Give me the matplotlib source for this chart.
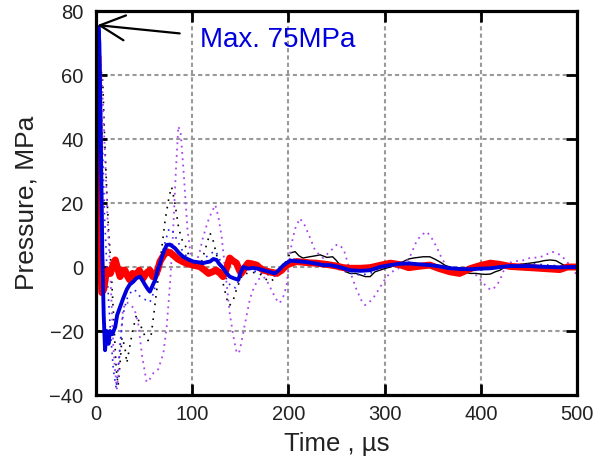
import matplotlib
matplotlib.use("Agg")
import matplotlib.pyplot as plt
import numpy as np

plt.rcParams['font.family'] = ['Liberation Sans', 'DejaVu Sans']

# time (us) / pressure (MPa)
red_t = [0, 1, 1.8, 3, 4.5, 6, 8, 10, 12.5, 15, 18, 20, 23, 25, 28, 30, 33, 35, 38, 42, 45, 49, 52, 56,
         59, 61, 64, 66.5, 70, 73.5, 77, 80, 85, 90, 95, 101, 108, 113, 117, 121, 125, 129, 132, 135,
         139, 142, 146, 149, 151, 154, 158, 162, 167, 170, 174, 180, 188, 193, 198, 203, 208.6, 215,
         222, 229, 240, 250, 257, 264, 275, 285, 295, 306, 315, 325, 335, 347, 357, 368, 378, 389,
         400, 410, 420, 430, 440, 451, 462, 472, 482, 490, 500]
red_p = [0, 30, 66, 40, 5, -8, -7, -3, -1, -2, 1, 2.2, -1, -3, -1, -1, -3, -4, -2, -2.5, -1, -3.5, -2, -1,
         -3, -3, -1, 1.7, 3.5, 4.8, 4.5, 3.8, 2.5, 1.7, 1, 0.6, 0.1, -1, -2, -1.5, -1, -2, -3, -1,
         2.8, 2, 1.2, -1, -2, -0.5, 1.2, 1, 0.6, -0.2, -1, -1.5, -2, -1, 0.6, 1.2, 1.7, 1.5,
         1.3, 1.2, 0.8, 0.3, -0.2, -0.4, -0.4, -0.2, 0.5, 1.2, 0.8, -0.2, 0.2, 0.6, -0.5, -1.5, -2, -0.5,
         0.5, 1.2, 0.8, 0.2, 0, -0.2, -0.4, -0.6, -0.8, 0, 0]

blue_t = [0, 1, 2.5, 3.5, 5, 6.5, 8, 9.4, 11, 13, 14.5, 17, 20, 22, 25, 28, 32, 35, 38.7, 42, 45.7, 48,
          51, 54, 56, 58.5, 61.5, 64, 66.5, 70, 73.5, 77, 82, 86, 90.6, 95, 101, 106, 111, 115, 118.5,
          122, 125.4, 128, 132, 136, 139, 143, 148, 150, 153, 158, 163, 168, 174, 180, 186, 190, 195,
          202, 210, 220, 230, 236, 243, 253, 264, 275, 285, 295, 306, 315, 326, 337, 347, 357, 368,
          378, 389, 400, 410, 420, 430, 440, 451, 462, 472, 482, 493, 500]
blue_p = [0, 40, 75, 70, 40, 5, -15, -26, -20, -24, -20, -21, -18.7, -15, -12.5, -10, -7, -5.5, -4.6, -3.5,
          -3, -4, -5.6, -7, -7.7, -6, -4, -1, 1.2, 4.5, 6.9, 7, 5.9, 4.5, 3.2, 2.5, 1.7, 1.5, 1.2, 1.5,
          1.7, 2.5, 2.2, 1, -0.3, -2, -3, -3.5, -4, -2, 0, -0.5, -0.3, -0.5, -1, -1.5, -2, -1, 0.6,
          2, 1.8, 1.5, 1, 0.6, 0.6, 0, -1, -1.2, -1, 0, 0.6, 1, 1.1, 0.8, 0.6, 0.2, -0.4,
          -0.6, -0.7, -0.5, -0.4, 0, 0.3, 0.3, 0.3, 0.1, 0, -0.1, 0, 0]

bdot_t = [0, 1.5, 3, 5, 7, 9, 12, 15, 18, 21, 24, 28, 32, 36, 40, 45, 50, 56, 60, 63, 67, 72, 76, 80, 85,
          90, 95, 100, 107, 112, 118, 124, 128, 132, 136, 140, 145, 150, 155, 160, 166, 172, 180, 188,
          195, 200, 206, 215, 225, 235, 245, 255, 265, 275, 285, 295, 305, 315, 325, 335, 345, 355,
          365, 375, 385, 395, 405, 415, 425, 435, 445, 455, 465, 475, 485, 495, 500]
bdot_p = [0, 50, 72, 55, 35, 15, -5, -20, -32, -38, -28, -15, -10, -8, -7, -9, -10, -11, -8, -4, 2, 8, 12,
          11, 8, 5, 3, 2, 1, 2.5, 4, 5, 3, -1, -4, -6, -6.5, -3, -1, 0, -1.5, -2, -2.5, -3,
          -1, 1, 2.5, 2, 1.5, 1, 0, -1, -2, -2.5, -2, -0.5, 1, 1.5, 1.5, 1, 0.5, 0,
          -0.5, -1, -1.2, -1, -0.8, -0.3, 0.4, 0.8, 0.8, 1, 0.7, 0.5, 0.2, 0, 0]

black_t = [0, 2, 3.5, 5, 7, 9, 11, 13, 15, 17, 19, 21, 23, 25, 27, 30, 32, 35, 38, 42, 46, 50, 54, 57, 60,
           64, 68, 72, 76, 78.6, 82, 86, 90, 94, 98, 102, 106, 110, 114, 118.5, 122, 126, 129, 132, 136,
           139, 143, 146, 150, 153, 157, 162, 166, 170, 175, 181, 186, 191, 196, 202, 207, 211, 215,
           222, 228, 233, 240, 246, 250, 255, 260, 264, 270, 275, 280, 285, 290, 295, 300, 306, 312,
           318, 325, 330, 335, 340, 347, 352, 358, 363, 368, 375, 382, 389, 395, 400, 405, 410, 415,
           420, 425, 430, 440, 451, 460, 466, 472, 478, 485, 490, 495, 500]
black_p = [0, 40, 68, 62, 58, 40, 25, 12, 3, -8, -20, -32, -37, -30, -22, -25, -30, -25, -20, -15, -18, -21,
           -23, -22, -15, -5, 5, 15, 22, 25, 20, 12, 8, 6, 2, -1, 0, 2, 6, 10.6, 8, 3, 0, -5, -10,
           -12, -10, -7, -4, -2, -2, -1.5, -2, -2, -3.5, -4.6, -3.5, -2, 1, 4.4, 4.8, 3.5, 2.8,
           3.2, 3.5, 3.8, 3, 3.2, 2, 0, -1.5, -2, -2, -2.5, -3, -3, -1.5, -1, -0.5, 0, 1,
           1.5, 2.5, 2.8, 3, 3.2, 3.2, 2.5, 1.5, 0.5, 0, -0.8, -1.5, -2, -2, -2.2, -2.3, -2.2, -1.5,
           -1, 0, 0.3, 0.8, 1.2, 1.6, 2, 2.2, 2, 0.8, 0, -0.5, -0.8]

purple_t = [0, 2, 4, 6, 8, 10, 12, 14, 16, 18, 20, 21.5, 23, 25, 28, 32, 36, 40, 44, 48, 52.6, 56, 60,
            64.6, 70, 73.5, 77, 80, 83, 85.6, 88, 91, 95, 100, 104.6, 108, 111, 116, 120, 124, 127,
            130.6, 135, 139, 143, 146, 148.5, 151, 154, 157, 160, 163, 168, 174, 178, 182.6, 187, 191,
            195, 198, 201, 203.4, 207, 212, 217, 222, 228, 236, 243, 250, 253.6, 258, 262, 266, 271,
            276, 279.6, 284, 288, 295, 302, 310, 319, 326, 333, 338, 344, 349, 354, 359, 364.5, 372,
            380, 389, 395, 402.6, 407, 411, 416, 420, 424, 427, 435, 443, 451, 460, 466, 473.6, 478,
            484, 490, 495, 500]
purple_p = [0, 35, 55, 60, 45, 30, 15, 3, -10, -25, -33, -38, -35, -25, -13, -11, -12, -13, -18, -28, -36,
            -35, -33, -32, -27, -18.6, -5, 10, 30, 44, 42, 30, 12, 0, 1.7, 5, 9, 14, 17, 19.4, 16,
            9.5, -3, -14.5, -22, -26.5, -27, -23.8, -19, -14.5, -10, -7.3, -4, -3, -4.5, -7.3, -10, -11.3,
            -9, -6, 2, 7.4, 12, 15.2, 13, 9.5, 5, 2.8, 4.8, 6.9, 6.9, 5, 1, -3, -7.2,
            -10.5, -11.9, -11, -9.8, -6.5, -3, -1, 0.1, 3, 7.9, 10, 11, 9, 6.3, 3, 0.1, -0.5,
            -0.5, -1, -2.5, -5, -6.5, -7.2, -6, -4, -1, 1.1, 1.8, 2, 2.8, 3, 3.5, 4.8, 4.5,
            3.5, 1.5, -0.5, -2.5]

fig = plt.figure(figsize=(6.05, 4.73), dpi=100)
ax = fig.add_axes([0.1587, 0.1649, 0.795, 0.8118])

ax.grid(True, color='#999999', linestyle=(0, (2, 1.5)), linewidth=1.5)
ax.set_axisbelow(True)

black_t = np.array(black_t)
black_p = np.array(black_p)
early = black_t <= 202
ax.plot(black_t[early], black_p[early], color='black', linestyle=(0, (1, 3.5)), linewidth=1.2)
ax.plot(black_t[black_t >= 202], black_p[black_t >= 202], color='black', linewidth=1.0)
ax.plot(purple_t, purple_p, color='#aa44ee', linestyle=(0, (1, 2.5)), linewidth=1.3)
ax.plot(bdot_t, bdot_p, color='#2222ee', linestyle=(0, (1, 3)), linewidth=1.2)
ax.plot(red_t, red_p, color='#ff0000', linewidth=5, solid_joinstyle='round')
ax.plot(blue_t, blue_p, color='#0000dd', linewidth=2.8)

ax.annotate('', xy=(1.4, 75.6), xytext=(87, 73),
            arrowprops=dict(arrowstyle='->,head_length=0.6,head_width=0.3',
                            lw=1.6, color='black', mutation_scale=30,
                            shrinkA=0, shrinkB=0))
ax.text(108, 71, 'Max. 75MPa', color='#0000dd', fontsize=20, va='center', ha='left')

ax.set_xlim(0, 500)
ax.set_ylim(-40, 80)
ax.set_xticks(range(0, 501, 100))
ax.set_yticks(range(-40, 81, 20))
ax.tick_params(direction='in', length=8, width=2, top=True, right=True,
               labelsize=14.5, labelcolor='#222222')
ax.tick_params(axis='y', pad=9)
ax.tick_params(axis='x', pad=7)
for s in ax.spines.values():
    s.set_linewidth(2.3)

ax.set_xlabel('Time , µs', fontsize=18.5, color='#222222', labelpad=6)
ax.set_ylabel('Pressure, MPa', fontsize=19, color='#222222', labelpad=8)

fig.savefig('out.png', dpi=100)
